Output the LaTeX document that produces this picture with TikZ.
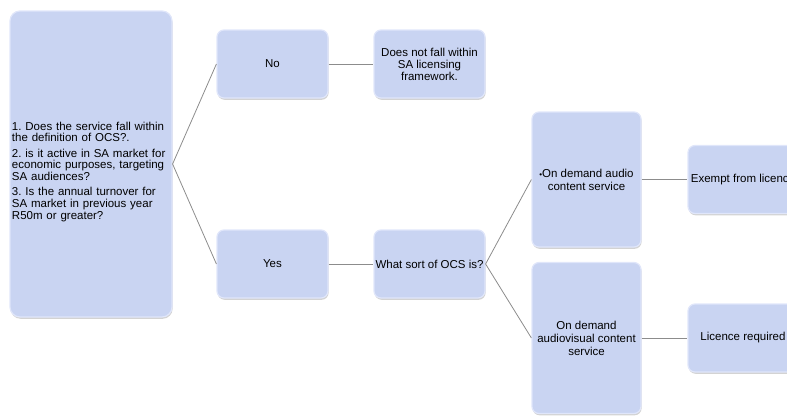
\documentclass[tikz,border=0pt]{standalone}
\usepackage{fontspec}
\setmainfont{Liberation Sans}
\usetikzlibrary{positioning,shadows}
\definecolor{boxfill}{RGB}{201,212,242}
\definecolor{boxedge}{RGB}{224,230,250}
\definecolor{linkgray}{RGB}{140,140,140}
\tikzset{box/.style={draw=boxedge,line width=1.2pt,fill=boxfill,rounded corners=7pt,
  drop shadow={shadow xshift=0.6pt,shadow yshift=-1.8pt,opacity=0.35,fill=gray},
  align=center,inner sep=2pt,font=\fontsize{11.5}{13}\selectfont},
  link/.style={draw=linkgray,line width=0.8pt}}
\frenchspacing

\begin{document}
\begin{tikzpicture}[x=1pt,y=-1pt]
\useasboundingbox (0,0) rectangle (787,415);
\clip (0,0) rectangle (787,415);
\node[box,rounded corners=10pt,minimum width=162pt,minimum height=306pt,text width=158pt,
  text height=10pt,text depth=78pt,align=left,inner xsep=2pt,
  font=\fontsize{11.5}{11.7}\selectfont] (q) at (91,164)
  {1. Does the service fall within\\the definition of OCS?.\par\vspace{3.6pt}
   2. is it active in SA market for\\economic purposes, targeting\\SA audiences?\par\vspace{3.6pt}
   3. Is the annual turnover for\\SA market in previous year\\R50m or greater?};

\node[box,minimum width=111pt,minimum height=68pt] (no) at (272.5,64) {No};
\node[box,minimum width=111pt,minimum height=68pt,font=\fontsize{11.5}{12}\selectfont] (out) at (429.5,64)
  {Does not fall within\\SA licensing\\framework.};
\node[box,minimum width=111pt,minimum height=68pt] (yes) at (272.5,264) {Yes};
\node[box,minimum width=111pt,minimum height=68pt,inner sep=0pt] (sort) at (429.5,264) {What sort of OCS is?};

\node[box,minimum width=109pt,minimum height=135pt] (aud) at (586.5,179.5)
  {{\fontsize{8}{8}\selectfont\textbullet}On demand audio\\content service};
\node[box,minimum width=109pt,minimum height=151pt] (av) at (586.5,338)
  {On demand\\audiovisual content\\service};
\node[box,minimum width=110pt,minimum height=68pt] (ex) at (743,179.5) {Exempt from licence};
\node[box,minimum width=110pt,minimum height=68pt] (lic) at (743,338) {Licence required};

% connectors
\coordinate (qr) at (q.east);
\draw[link] (no.west) -- (qr) -- (yes.west);
\draw[link] (no) -- (out);
\draw[link] (yes) -- (sort);
\draw[link] (aud.west) -- (sort.east) -- (av.west);
\draw[link] (aud) -- (ex);
\draw[link] (av) -- (lic);
\end{tikzpicture}
\end{document}
